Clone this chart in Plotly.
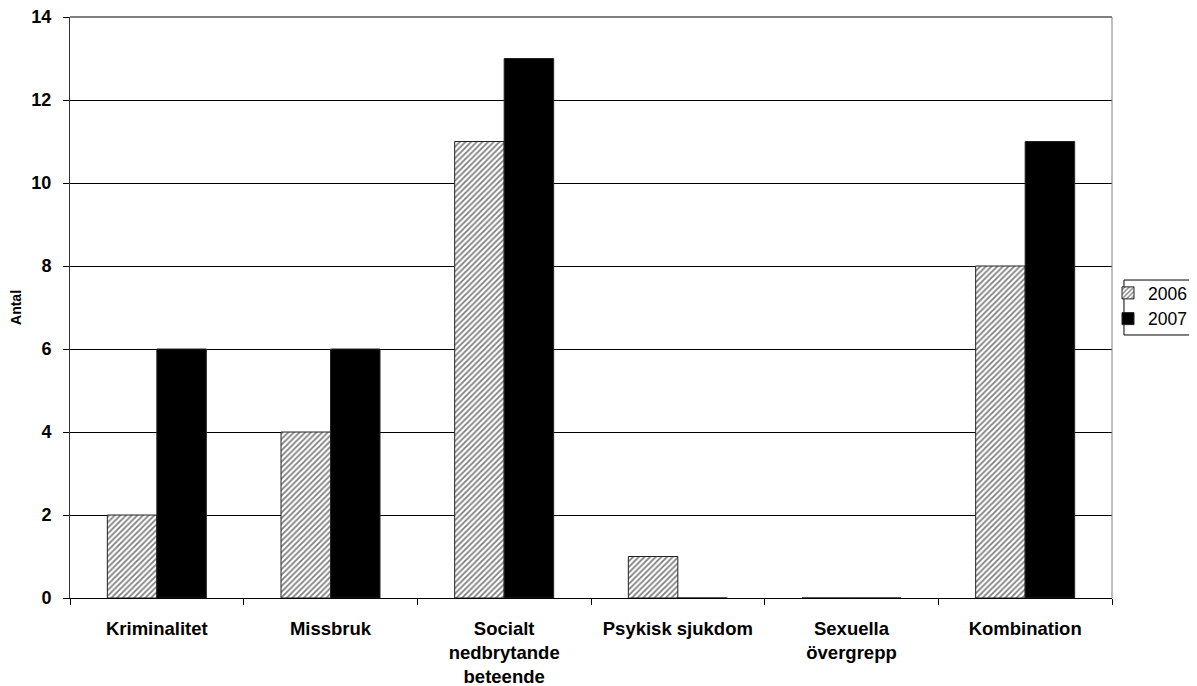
import plotly.graph_objects as go

categories = ["Kriminalitet", "Missbruk", "Socialt<br>nedbrytande<br>beteende",
              "Psykisk sjukdom", "Sexuella<br>övergrepp", "Kombination"]
values_2006 = [2, 4, 11, 1, 0, 8]
values_2007 = [6, 6, 13, 0, 0, 11]
y_ticks = [0, 2, 4, 6, 8, 10, 12, 14]

FONT = "Liberation Sans, Arial, sans-serif"

fig = go.Figure()
fig.add_trace(go.Bar(
    name="2006", x=categories, y=values_2006,
    marker=dict(color="white",
                line=dict(color="#222222", width=1),
                pattern=dict(shape="/", fgcolor="black", bgcolor="white",
                             size=4, solidity=0.45)),
))
fig.add_trace(go.Bar(
    name="2007", x=categories, y=values_2007,
    marker=dict(color="black", line=dict(color="#222222", width=1)),
))

W, H = 1189, 678
fig.update_layout(
    width=W, height=H,
    margin=dict(l=62, r=85, t=9, b=88, autoexpand=False),
    paper_bgcolor="white", plot_bgcolor="white",
    barmode="group", bargap=0.43, bargroupgap=0,
    font=dict(family=FONT, color="black"),
    showlegend=True,
    legend=dict(xref="container", yref="container",
                x=1100 / W, y=1 - 267 / H, xanchor="left", yanchor="top",
                borderwidth=0, bgcolor="rgba(0,0,0,0)",
                font=dict(family=FONT, size=17.5, color="black"),
                itemwidth=30, tracegroupgap=0),
    xaxis=dict(
        type="category", tickson="boundaries", ticks="outside", ticklen=6,
        tickcolor="black", showline=True, linecolor="black", linewidth=1,
        showgrid=False, tickangle=0, automargin=False,
        tickfont=dict(family=FONT, size=18.5, color="black", weight="bold"),
        ticklabelstandoff=14, ticklabeloverflow="allow",
    ),
    yaxis=dict(
        range=[0, 14], tickvals=y_ticks, ticks="outside", ticklen=6,
        tickcolor="black", showline=True, linecolor="#333333", linewidth=1,
        showgrid=True, gridcolor="black", gridwidth=1, zeroline=False,
        automargin=False,
        tickfont=dict(family=FONT, size=18, color="black", weight="bold"),
        ticklabelstandoff=8, ticklabeloverflow="allow",
        title=dict(text="Antal", font=dict(family=FONT, size=14, color="black", weight="bold"),
                   standoff=14),
    ),
    shapes=[
        dict(type="line", xref="paper", yref="paper", x0=0, x1=1, y0=1, y1=1,
             line=dict(color="#808080", width=2), layer="above"),
        dict(type="line", xref="paper", yref="paper", x0=1, x1=1, y0=0, y1=1,
             line=dict(color="#808080", width=1), layer="above"),
        dict(type="rect", xref="paper", yref="paper", x0=1.0115, x1=1.2,
             y0=0.4527, y1=0.5473, fillcolor="white",
             line=dict(color="black", width=1), layer="below"),
    ],
)

fig.write_html("out.html")
